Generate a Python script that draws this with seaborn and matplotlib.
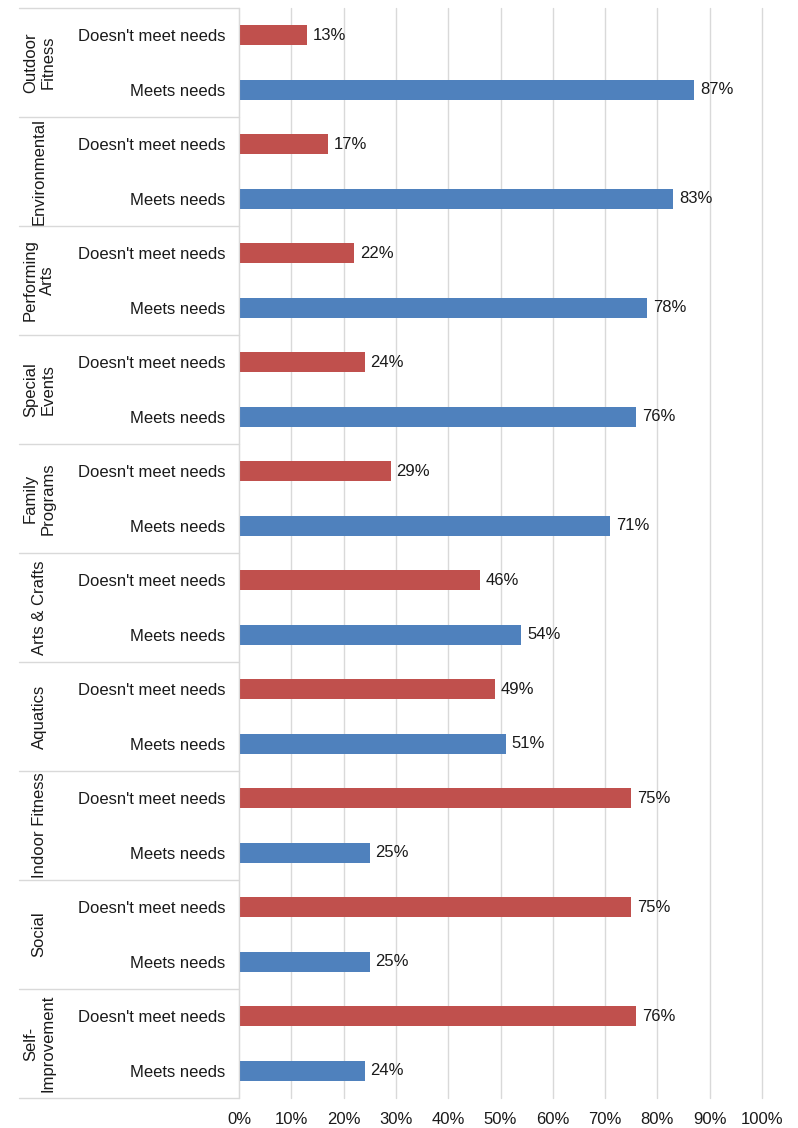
import matplotlib
matplotlib.use("Agg")
import matplotlib.pyplot as plt
import matplotlib.transforms as mtransforms
import seaborn as sns
import pandas as pd

# categories, top to bottom
groups = ["Outdoor\nFitness", "Environmental", "Performing\nArts", "Special\nEvents",
          "Family\nPrograms", "Arts & Crafts", "Aquatics", "Indoor Fitness",
          "Social", "Self-\nImprovement"]
not_meet = [13, 17, 22, 24, 29, 46, 49, 75, 75, 76]
meets = [87, 83, 78, 76, 71, 54, 51, 25, 25, 24]
status = ["Doesn't meet needs", "Meets needs"]

rows = []
for i, g in enumerate(groups):
    rows.append({"row": str(2 * i), "group": g, "status": status[0], "value": not_meet[i]})
    rows.append({"row": str(2 * i + 1), "group": g, "status": status[1], "value": meets[i]})
df = pd.DataFrame(rows)

sns.set_style("white")
plt.rcParams['font.family'] = ['Liberation Sans', 'DejaVu Sans']
fs = 12

fig = plt.figure(figsize=(7.98, 11.28), dpi=100)
ax = fig.add_axes([0.2995, 0.0266, 0.6554, 0.9663])

sns.barplot(data=df, x="value", y="row", hue="status", dodge=False,
            palette={status[0]: "#C0504D", status[1]: "#4F81BD"}, saturation=1,
            width=0.37, orient="h", ax=ax, legend=False, linewidth=0)

ax.set_xlim(0, 100)
ax.set_ylim(19.5, -0.5)
ax.set_xticks(range(0, 101, 10))
ax.set_xticklabels([f"{t}%" for t in range(0, 101, 10)], fontsize=fs, color="#1a1a1a")
ax.set_yticks(range(len(df)))
ax.set_yticklabels(df["status"], fontsize=fs, color="#1a1a1a")
ax.tick_params(axis="x", length=0, pad=10)
ax.tick_params(axis="y", length=0, pad=10)
ax.set_xlabel("")
ax.set_ylabel("")
ax.xaxis.grid(True, color="#D9D9D9", linewidth=1)
for gl in ax.get_xgridlines():
    gl.set_clip_on(False)
ax.set_axisbelow(True)
for s in ["top", "right", "bottom"]:
    ax.spines[s].set_visible(False)
ax.spines["left"].set_color("#D9D9D9")

# value labels
for i, v in enumerate(df["value"]):
    ax.text(v + 1.1, i, f"{v}%", va="center", ha="left", fontsize=fs, color="#1a1a1a")

# group separators and labels
trans = mtransforms.blended_transform_factory(ax.transAxes, ax.transData)
for k in range(len(groups) + 1):
    y = 2 * k - 0.5
    ax.plot([-0.42, 0], [y, y], transform=trans, color="#D9D9D9", lw=1, clip_on=False)
for i, g in enumerate(groups):
    ax.text(-0.382, 2 * i + 0.5, g, transform=trans, rotation=90, ha="center", va="center",
            multialignment="center", fontsize=fs, color="#1a1a1a", linespacing=1.2)

fig.savefig("out.png", dpi=100)
